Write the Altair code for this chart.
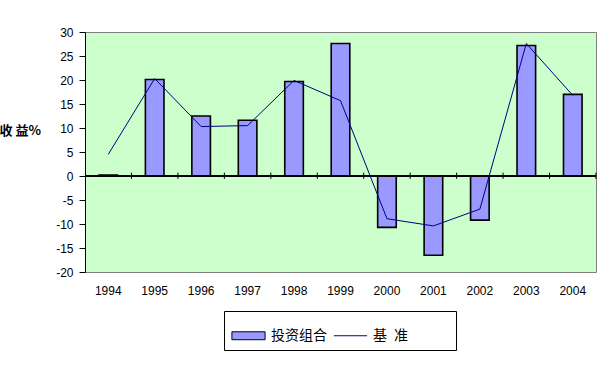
import altair as alt
import pandas as pd

years = ["1994", "1995", "1996", "1997", "1998", "1999", "2000", "2001", "2002", "2003", "2004"]
portfolio = [0.2, 20.1, 12.5, 11.6, 19.7, 27.6, -10.7, -16.5, -9.2, 27.2, 17.0]
benchmark = [4.5, 20.3, 10.3, 10.5, 19.9, 15.7, -8.9, -10.4, -6.9, 27.6, 16.8]
series_names = ["投资组合", "基\u2002准"]
y_ticks = [-20, -15, -10, -5, 0, 5, 10, 15, 20, 25, 30]

df = pd.DataFrame({"year": years, "portfolio": portfolio, "benchmark": benchmark})
legend_df = pd.DataFrame({"series": series_names, "year": [years[0], years[0]], "v": [0, 0]})

FONT = "Liberation Sans, Arial, Noto Sans CJK SC"
PAD_TITLE = "基准基准基"

x_scale = alt.Scale(paddingInner=0, paddingOuter=0)
x_axis = alt.Axis(title=None, labelAngle=0, domain=False, ticks=False,
                  labelPadding=13, labelFontSize=12, labelColor="black",
                  labelFont=FONT)
y_scale = alt.Scale(domain=[-20, 30], nice=False, zero=False)
y_axis = alt.Axis(values=y_ticks, grid=False, domainColor="black",
                  tickColor="black", tickSize=6, labelPadding=6,
                  labelOverlap=False, labelFontSize=12, labelColor="black",
                  labelFont=FONT, labelExpr="toString(datum.value)",
                  title="收 益%", titleAngle=0, titleAlign="left",
                  titleBaseline="middle", titleX=-86, titleY=98,
                  titleFontSize=13, titleFontWeight="bold",
                  titleFont="Noto Sans CJK SC", titleColor="black")

base = alt.Chart(df)

bars = base.mark_bar(width=alt.RelativeBandSize(0.4), color="#9999FF",
                     stroke="black", strokeWidth=1.6).encode(
    x=alt.X("year:N", sort=years, scale=x_scale, axis=x_axis),
    y=alt.Y("portfolio:Q", scale=y_scale, axis=y_axis),
)

zero_rule = base.mark_rule(color="black", strokeWidth=1).encode(
    y=alt.Y(datum=0, scale=y_scale, axis=y_axis))

ticks = base.mark_rule(color="black", strokeWidth=1).encode(
    x=alt.X("year:N", sort=years, bandPosition=1, scale=x_scale, axis=x_axis),
    y=alt.Y(datum=-0.6, scale=y_scale, axis=y_axis),
    y2=alt.Y2(datum=0.7),
)

line = base.mark_line(color="#000080", strokeWidth=1).encode(
    x=alt.X("year:N", sort=years, scale=x_scale, axis=x_axis),
    y=alt.Y("benchmark:Q", scale=y_scale, axis=y_axis),
)

legend_layer = alt.Chart(legend_df).transform_filter("false").mark_point(
    filled=True, opacity=1).encode(
    x=alt.X("year:N", sort=years, scale=x_scale, axis=x_axis),
    y=alt.Y("v:Q", scale=y_scale, axis=y_axis),
    fill=alt.Fill("series:N",
                  scale=alt.Scale(domain=series_names, range=["#9999FF", "transparent"]),
                  legend=alt.Legend(title=PAD_TITLE, titleOrient="right",
                                    titleColor="transparent",
                                    titleFontSize=8, titlePadding=1,
                                    orient="none", legendX=139, legendY=279,
                                    direction="horizontal", strokeColor="black",
                                    fillColor="white", padding=7,
                                    labelFont="Noto Sans CJK SC", labelFontSize=14,
                                    labelColor="black", symbolSize=1100,
                                    symbolStrokeWidth=1, symbolOpacity=1, labelOffset=5,
                                    columnPadding=4)),
    stroke=alt.Stroke("series:N",
                      scale=alt.Scale(domain=series_names, range=["black", "#000080"]),
                      legend=alt.Legend(title=PAD_TITLE)),
    shape=alt.Shape("series:N",
                    scale=alt.Scale(domain=series_names,
                                    range=["M-1,-0.24H1V0.24H-1Z", "M-1,0H1"]),
                    legend=alt.Legend(title=PAD_TITLE)),
)

chart = alt.layer(bars, zero_rule, ticks, line, legend_layer).properties(
    width=511, height=240,
    autosize=alt.AutoSizeParams(type="none"),
    padding={"left": 85, "top": 32, "right": 19, "bottom": 104},
    background="white",
).configure_view(
    fill="#CCFFCC", stroke="#808080", strokeWidth=1,
)

chart.save("out.html", embed_options={"renderer": "svg", "actions": False})
